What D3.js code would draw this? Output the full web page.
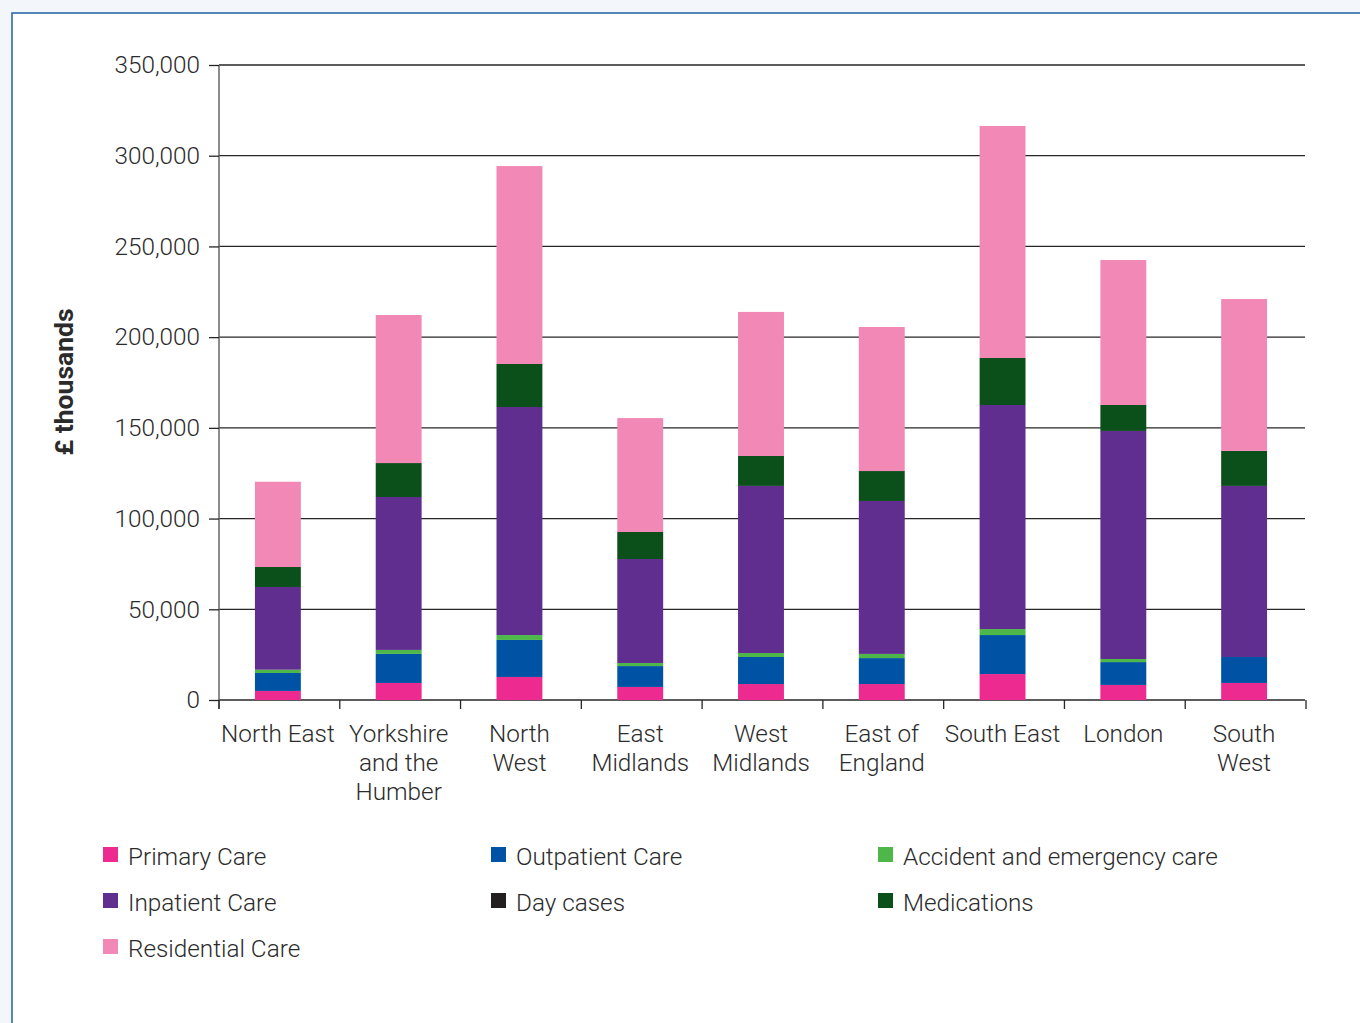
<!DOCTYPE html>
<html>
<head>
<meta charset="utf-8">
<script src="https://cdn.jsdelivr.net/npm/d3@7"></script>
<style>
  html, body { margin: 0; padding: 0; background: #f3f7fb; }
  svg { display: block; }
  text { font-family: Roboto, "Liberation Sans", sans-serif; fill: #2b2b2b; }
</style>
</head>
<body>
<svg id="chart" width="1360" height="1023"></svg>
<script>
// Regions (x-axis), label lines per region
const regions = ["North East", "Yorkshire and the Humber", "North West", "East Midlands",
  "West Midlands", "East of England", "South East", "London", "South West"];
const regionLabels = [["North East"], ["Yorkshire", "and the", "Humber"], ["North", "West"],
  ["East", "Midlands"], ["West", "Midlands"], ["East of", "England"], ["South East"],
  ["London"], ["South", "West"]];

// Spending by care type, £ thousands
const primaryCare     = [5.0, 9.4, 12.7, 7.2, 8.8, 8.8, 14.3, 8.3, 9.4].map(v => v * 1000);
const outpatientCare  = [9.9, 16.0, 20.4, 11.5, 14.9, 14.3, 21.5, 12.6, 14.3].map(v => v * 1000);
const accidentCare    = [1.8, 2.2, 2.7, 1.7, 2.2, 2.3, 3.3, 1.7, 0].map(v => v * 1000);
const inpatientCare   = [45.6, 84.3, 125.7, 57.3, 92.1, 84.3, 123.5, 125.7, 94.3].map(v => v * 1000);
const dayCases        = [0, 0, 0, 0, 0, 0, 0, 0, 0];
const medications     = [11.0, 18.7, 23.7, 14.9, 16.5, 16.5, 25.9, 14.3, 19.3].map(v => v * 1000);
const residentialCare = [47.0, 81.6, 109.1, 62.8, 79.4, 79.4, 127.9, 79.9, 83.7].map(v => v * 1000);

const yTicks = [0, 50000, 100000, 150000, 200000, 250000, 300000, 350000];

const series = [
  { name: "Primary Care", values: primaryCare, color: "#ec2a8f" },
  { name: "Outpatient Care", values: outpatientCare, color: "#0053a4" },
  { name: "Accident and emergency care", values: accidentCare, color: "#4db749" },
  { name: "Inpatient Care", values: inpatientCare, color: "#5f2e8f" },
  { name: "Day cases", values: dayCases, color: "#231f20" },
  { name: "Medications", values: medications, color: "#0b4f1b" },
  { name: "Residential Care", values: residentialCare, color: "#f288b6" }
];
// legend order (row-wise, three columns)
const legendOrder = ["Primary Care", "Outpatient Care", "Accident and emergency care",
  "Inpatient Care", "Day cases", "Medications", "Residential Care"];

const svg = d3.select("#chart");

// panel frame
svg.append("rect").attr("x", 12).attr("y", 13).attr("width", 1400).attr("height", 1100)
  .attr("fill", "#ffffff").attr("stroke", "#1f5fa6").attr("stroke-width", 1.5);

const plotLeft = 219, plotRight = 1306, plotTop = 65, plotBottom = 700;
const fontSize = "24.3px";

const x = d3.scaleBand().domain(regions).range([plotLeft, plotRight])
  .paddingInner(0.62).paddingOuter(0.31).align(0.48);
const y = d3.scaleLinear().domain([0, 350000]).range([plotBottom, plotTop]);

// gridlines
svg.append("g").selectAll("line").data(yTicks).join("line")
  .attr("x1", plotLeft).attr("x2", plotRight - 1)
  .attr("y1", d => y(d)).attr("y2", d => y(d))
  .attr("stroke", "#262626").attr("stroke-width", 1.3);

// stacked bars
const table = regions.map((r, i) => {
  const row = { region: r };
  series.forEach(s => row[s.name] = s.values[i]);
  return row;
});
const stack = d3.stack().keys(series.map(s => s.name))(table);
const colorOf = d3.scaleOrdinal().domain(series.map(s => s.name)).range(series.map(s => s.color));

svg.append("g").selectAll("g").data(stack).join("g")
  .attr("fill", d => colorOf(d.key))
  .selectAll("rect").data(d => d).join("rect")
  .attr("x", d => x(d.data.region))
  .attr("width", x.bandwidth())
  .attr("y", d => y(d[1]))
  .attr("height", d => Math.max(0, y(d[0]) - y(d[1])));

// y axis
const yAxis = svg.append("g").attr("transform", `translate(${plotLeft},0)`)
  .call(d3.axisLeft(y).tickValues(yTicks).tickSize(10).tickPadding(9)
    .tickFormat(d3.format(",")));
yAxis.select(".domain").attr("stroke", "#666").attr("stroke-width", 1.5)
  .attr("d", `M0,${plotTop}V${plotBottom + 9}`);
yAxis.selectAll(".tick line").attr("stroke", "#262626").attr("stroke-width", 1.3);
yAxis.selectAll(".tick text").style("font-size", fontSize).style("font-weight", 300)
  .attr("fill", "#2b2b2b");

// x axis: ticks at band boundaries
const tickStep = (plotRight - plotLeft) / regions.length;
const bounds = d3.range(regions.length + 1).map(i => plotLeft + i * tickStep);
svg.append("g").selectAll("line").data(bounds).join("line")
  .attr("x1", d => d).attr("x2", d => d)
  .attr("y1", plotBottom).attr("y2", plotBottom + 9)
  .attr("stroke", "#262626").attr("stroke-width", 1.3);

// x labels
const xl = svg.append("g").selectAll("text").data(regions).join("text")
  .attr("y", 742)
  .attr("text-anchor", "middle")
  .style("font-size", fontSize).style("font-weight", 300);
xl.each(function(d, i) {
  d3.select(this).selectAll("tspan").data(regionLabels[i]).join("tspan")
    .attr("x", x(d) + x.bandwidth() / 2)
    .attr("dy", (t, j) => j === 0 ? 0 : 29)
    .text(t => t);
});

// y axis title
svg.append("text")
  .attr("transform", "translate(73,382) rotate(-90)")
  .attr("text-anchor", "middle")
  .style("font-size", "26.5px").style("font-weight", 700)
  .attr("fill", "#1a1a1a")
  .text("£ thousands");

// legend
const colX = [103, 491, 878], rowY = [847, 893, 939];
const legend = svg.append("g").selectAll("g").data(legendOrder).join("g")
  .attr("transform", (d, i) => `translate(${colX[i % 3]},${rowY[Math.floor(i / 3)]})`);
legend.append("rect").attr("width", 15).attr("height", 15)
  .attr("fill", d => colorOf(d));
legend.append("text").attr("x", 25).attr("y", 18)
  .style("font-size", fontSize).style("font-weight", 300)
  .text(d => d);
</script>
</body>
</html>
